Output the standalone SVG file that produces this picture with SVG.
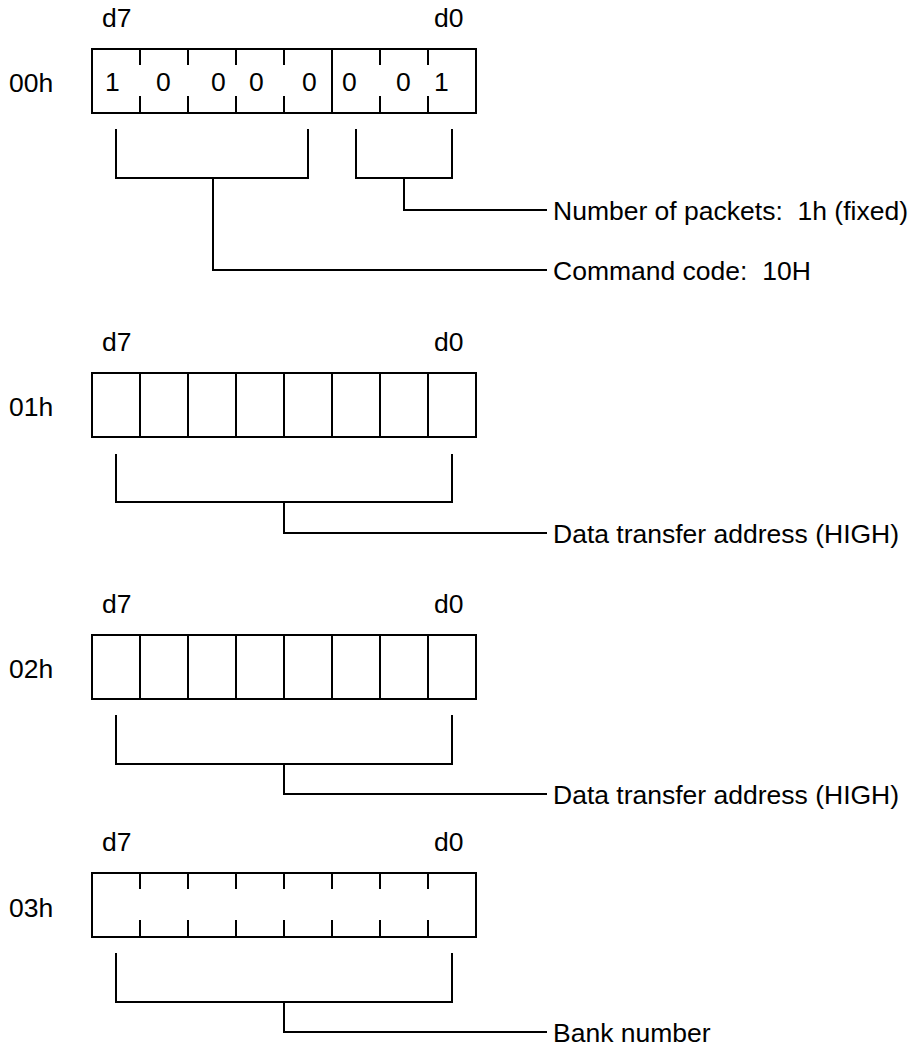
<svg xmlns="http://www.w3.org/2000/svg" width="916" height="1047" viewBox="0 0 916 1047">
<style>
  text { font-family: "Liberation Sans", Arial, sans-serif; font-size: 26.5px; fill: #000; white-space: pre; }
  .ln { stroke: #000; stroke-width: 2; fill: none; stroke-linecap: square; }
  .box { stroke: #000; stroke-width: 2; fill: #fff; }
</style>
<rect width="916" height="1047" fill="#fff"/>

<!-- Register 00h -->
<g id="reg00">
  <text x="102" y="27">d7</text>
  <text x="434" y="27">d0</text>
  <text x="9" y="92">00h</text>
  <rect class="box" x="92" y="49" width="384" height="64"/>
  <path class="ln" d="M140,49V64M188,49V64M236,49V64M284,49V64M380,49V64M428,49V64
                      M140,97V113M188,97V113M236,97V113M284,97V113M380,97V113M428,97V113
                      M332,49V113"/>
  <text x="105" y="91">1</text>
  <text x="156" y="91">0</text>
  <text x="211" y="91">0</text>
  <text x="249" y="91">0</text>
  <text x="302" y="91">0</text>
  <text x="342" y="91">0</text>
  <text x="396" y="91">0</text>
  <text x="434" y="91">1</text>
</g>
<g id="label-packets"><text x="553" y="220" xml:space="preserve">Number of packets:  1h (fixed)</text></g>
<g id="label-command"><text x="553" y="280" xml:space="preserve">Command code:  10H</text></g>

<!-- Register 01h -->
<g id="reg01">
  <text x="102" y="351">d7</text>
  <text x="434" y="351">d0</text>
  <text x="9" y="416">01h</text>
  <rect class="box" x="92" y="373" width="384" height="64"/>
  <path class="ln" d="M140,373V437M188,373V437M236,373V437M284,373V437M332,373V437M380,373V437M428,373V437"/>
</g>
<g id="label-high1"><text x="553" y="543">Data transfer address (HIGH)</text></g>

<!-- Register 02h -->
<g id="reg02">
  <text x="102" y="613">d7</text>
  <text x="434" y="613">d0</text>
  <text x="9" y="678">02h</text>
  <rect class="box" x="92" y="635" width="384" height="64"/>
  <path class="ln" d="M140,635V699M188,635V699M236,635V699M284,635V699M332,635V699M380,635V699M428,635V699"/>
</g>
<g id="label-high2"><text x="553" y="804">Data transfer address (HIGH)</text></g>

<!-- Register 03h -->
<g id="reg03">
  <text x="102" y="851">d7</text>
  <text x="434" y="851">d0</text>
  <text x="9" y="917">03h</text>
  <rect class="box" x="92" y="873" width="384" height="64"/>
  <path class="ln" d="M140,873V888M188,873V888M236,873V888M284,873V888M332,873V888M380,873V888M428,873V888
                      M140,921V937M188,921V937M236,921V937M284,921V937M332,921V937M380,921V937M428,921V937"/>
</g>
<g id="label-bank"><text x="553" y="1042">Bank number</text></g>

<!-- Connectors -->
<g id="connectors" class="ln">
  <path d="M116,130V178H308V130M213,178V270H546"/>
  <path d="M356,130V178H452V130M404,178V210H546"/>
  <path d="M116,455V502H452V455M284,502V533H546"/>
  <path d="M116,716V764H452V716M284,764V794H546"/>
  <path d="M116,954V1002H452V954M284,1002V1032H546"/>
</g>
</svg>
